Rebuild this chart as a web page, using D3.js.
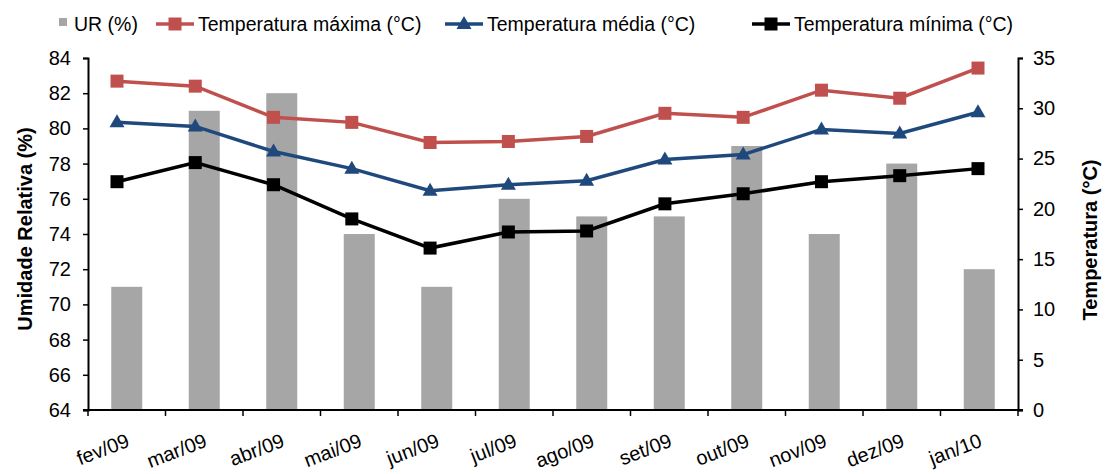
<!DOCTYPE html>
<html>
<head>
<meta charset="utf-8">
<script src="https://cdn.jsdelivr.net/npm/d3@7"></script>
<style>
  body { margin: 0; background: #fff; }
  text { font-family: "Liberation Sans", Arial, sans-serif; }
</style>
</head>
<body>
<div id="chart"></div>
<script>
const months = ["fev/09", "mar/09", "abr/09", "mai/09", "jun/09", "jul/09", "ago/09", "set/09", "out/09", "nov/09", "dez/09", "jan/10"];
const ur = [71, 81, 82, 74, 71, 76, 75, 75, 79, 74, 78, 72];
const tMax = [32.7, 32.2, 29.1, 28.6, 26.6, 26.7, 27.2, 29.5, 29.1, 31.8, 31.0, 34.0];
const tMed = [28.6, 28.2, 25.7, 24.0, 21.8, 22.4, 22.8, 24.9, 25.4, 27.9, 27.5, 29.6];
const tMin = [22.7, 24.6, 22.4, 19.0, 16.1, 17.7, 17.8, 20.5, 21.5, 22.7, 23.3, 24.0];
const urTicks = d3.range(64, 85, 2);
const tempTicks = d3.range(0, 36, 5);

const series = [
    {name: "Temperatura máxima (°C)", values: tMax, color: "#C0504D", marker: "square"},
    {name: "Temperatura média (°C)", values: tMed, color: "#1F497D", marker: "triangle"},
    {name: "Temperatura mínima (°C)", values: tMin, color: "#000000", marker: "square"}
];

const W = 1106, H = 474;
const plot = {left: 88, right: 1018, top: 58, bottom: 410};

const svg = d3.select("#chart").append("svg")
    .attr("width", W).attr("height", H);

const xCat = d3.scaleBand().domain(months).range([plot.left, plot.right]);
const barW = xCat.step() * 0.4;
// line points sit on a slightly shifted category axis
const xLine = d3.scalePoint().domain(months).range([plot.left + 29, plot.right - 40]);
const yL = d3.scaleLinear().domain([64, 84]).range([plot.bottom, plot.top]);
const yR = d3.scaleLinear().domain([0, 35]).range([plot.bottom, plot.top]);

// bars
svg.append("g").selectAll("rect")
    .data(ur)
    .enter().append("rect")
    .attr("x", (d, i) => xCat(months[i]) + (xCat.bandwidth() - barW) / 2)
    .attr("width", barW)
    .attr("y", d => yL(d))
    .attr("height", d => yL(64) - yL(d))
    .attr("fill", "#A6A6A6");

// left axis
const leftAxis = svg.append("g")
    .attr("transform", `translate(${plot.left},0)`)
    .call(d3.axisLeft(yL).tickValues(urTicks).tickSize(5).tickPadding(12));
// right axis
const rightAxis = svg.append("g")
    .attr("transform", `translate(${plot.right},0)`)
    .call(d3.axisRight(yR).tickValues(tempTicks).tickSize(5).tickPadding(10));
// bottom axis (ticks at category boundaries)
const bottom = svg.append("g");
bottom.append("line")
    .attr("x1", plot.left - 5).attr("x2", plot.right + 5)
    .attr("y1", plot.bottom).attr("y2", plot.bottom)
    .attr("stroke", "#000").attr("stroke-width", 2);
bottom.selectAll("line.tk")
    .data(months.concat([null]))
    .enter().append("line")
    .attr("class", "tk")
    .attr("x1", (d, i) => plot.left + i * xCat.step())
    .attr("x2", (d, i) => plot.left + i * xCat.step())
    .attr("y1", plot.bottom).attr("y2", plot.bottom + 6)
    .attr("stroke", "#000").attr("stroke-width", 1.5);
bottom.selectAll("text")
    .data(months)
    .enter().append("text")
    .attr("transform", d => `translate(${xCat(d) + xCat.bandwidth() / 2 + 4},${plot.bottom + 36}) rotate(-21)`)
    .attr("text-anchor", "end")
    .attr("font-size", 20)
    .text(d => d);

[leftAxis, rightAxis].forEach(g => {
    g.select(".domain").attr("stroke-width", 2);
    g.selectAll(".tick line").attr("stroke-width", 1.5);
    g.selectAll(".tick text").attr("font-size", 20).attr("fill", "#000")
        .attr("font-family", "'Liberation Sans', Arial, sans-serif");
});

// axis titles
svg.append("text")
    .attr("transform", `translate(32,229) rotate(-90)`)
    .attr("text-anchor", "middle")
    .attr("font-size", 20).attr("font-weight", "bold")
    .text("Umidade Relativa (%)");
svg.append("text")
    .attr("transform", `translate(1097,240) rotate(-90)`)
    .attr("text-anchor", "middle")
    .attr("font-size", 20).attr("font-weight", "bold")
    .text("Temperatura (°C)");

const line = d3.line()
    .x((d, i) => xLine(months[i]))
    .y(d => yR(d));

function drawMarker(g, type, color, cx, cy) {
    if (type === "square") {
        g.append("rect")
            .attr("x", cx - 6.5).attr("y", cy - 6.5)
            .attr("width", 13).attr("height", 13)
            .attr("fill", color);
    } else {
        g.append("path")
            .attr("d", `M${cx},${cy - 8}L${cx + 7.5},${cy + 5}L${cx - 7.5},${cy + 5}Z`)
            .attr("fill", color);
    }
}

series.forEach(s => {
    const g = svg.append("g");
    g.append("path")
        .datum(s.values)
        .attr("d", line)
        .attr("fill", "none")
        .attr("stroke", s.color)
        .attr("stroke-width", 3.5);
    s.values.forEach((v, i) => drawMarker(g, s.marker, s.color, xLine(months[i]), yR(v)));
});

// legend
const legend = svg.append("g");
legend.append("rect")
    .attr("x", 59).attr("y", 18).attr("width", 8).attr("height", 8)
    .attr("fill", "#A6A6A6");
legend.append("text")
    .attr("x", 74).attr("y", 31).attr("font-size", 19.5)
    .text("UR (%)");
const legendX = [156, 445, 752];
series.forEach((s, i) => {
    const lx = legendX[i];
    legend.append("line")
        .attr("x1", lx).attr("x2", lx + 38)
        .attr("y1", 24).attr("y2", 24)
        .attr("stroke", s.color).attr("stroke-width", 3.5);
    drawMarker(legend, s.marker, s.color, lx + 19, 24);
    legend.append("text")
        .attr("x", lx + 42).attr("y", 31).attr("font-size", 19.5)
        .text(s.name);
});
</script>
</body>
</html>
